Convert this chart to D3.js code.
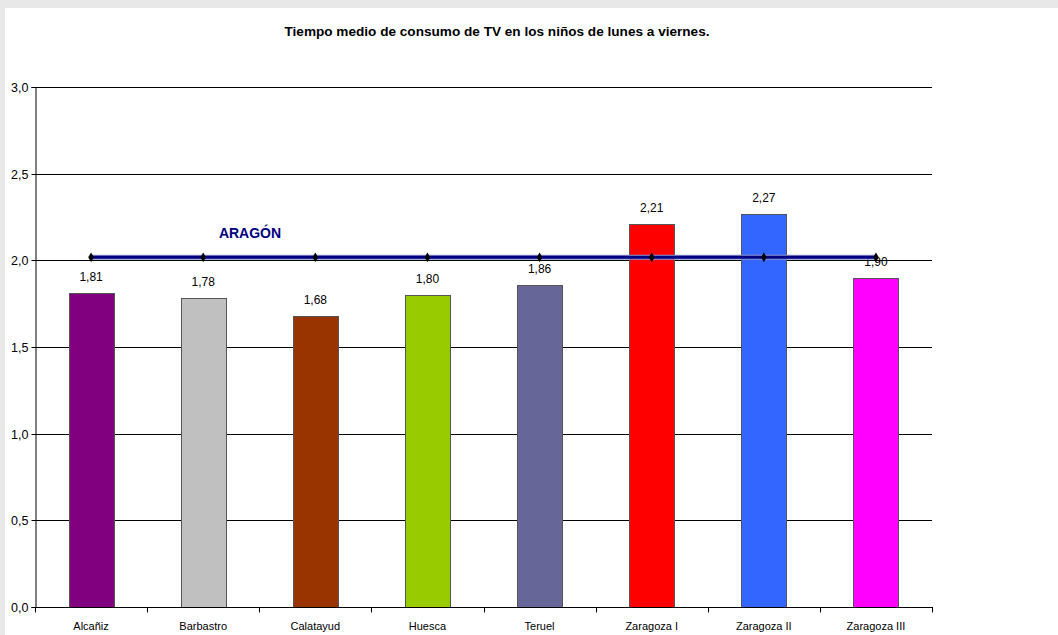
<!DOCTYPE html>
<html><head><meta charset="utf-8">
<script src="https://cdn.jsdelivr.net/npm/d3@7"></script>
<style>body{margin:0;background:#fff;}svg{display:block;font-family:Arial,"Liberation Sans",sans-serif;}</style>
</head><body>
<script>
const categories = ["Alcañiz","Barbastro","Calatayud","Huesca","Teruel","Zaragoza I","Zaragoza II","Zaragoza III"];
const values = [1.81,1.78,1.68,1.80,1.86,2.21,2.27,1.90];
const labels = ["1,81","1,78","1,68","1,80","1,86","2,21","2,27","1,90"];
const aragon = [2.02,2.02,2.02,2.02,2.02,2.02,2.02,2.02];
const colors = ["#800080","#c0c0c0","#993300","#99cc00","#666699","#ff0000","#3366ff","#ff00ff"];
const yTicks = [0,0.5,1,1.5,2,2.5,3];
const yTickLabels = ["0,0","0,5","1,0","1,5","2,0","2,5","3,0"];

const W=1058,H=635;
const svg=d3.select("body").append("svg").attr("width",W).attr("height",H);
svg.append("rect").attr("width",W).attr("height",H).attr("fill","#e8e8e8");
svg.append("rect").attr("x",5).attr("y",8).attr("width",W-5).attr("height",H-8).attr("fill","#fff");

const x0=35,x1=932,yTop=87,yBot=607;
const xb=d3.scaleBand().domain(categories).range([x0,x1]);
const y=d3.scaleLinear().domain([0,3]).range([yBot,yTop]);

svg.append("text").attr("x",497).attr("y",36).attr("text-anchor","middle")
 .attr("font-size",13.6).attr("font-weight","bold").text("Tiempo medio de consumo de TV en los niños de lunes a viernes.");

// grid
svg.append("g").selectAll("line").data(yTicks.slice(1)).join("line")
 .attr("x1",x0).attr("x2",x1).attr("y1",d=>Math.round(y(d))+0.5).attr("y2",d=>Math.round(y(d))+0.5)
 .attr("stroke","#000").attr("stroke-width",1);

// y axis
const ya=svg.append("g").attr("transform",`translate(${x0+0.5},0)`)
 .call(d3.axisLeft(y).tickValues(yTicks).tickSize(4).tickFormat((d,i)=>yTickLabels[i]));
ya.select(".domain").attr("stroke","#000");
ya.selectAll("text").attr("font-size",12.5).attr("font-family","Arial,'Liberation Sans',sans-serif").attr("fill","#000").attr("x",-7);
ya.selectAll(".tick line").attr("stroke","#000");
ya.selectAll(".tick").attr("transform",d=>`translate(0,${Math.round(y(d))+0.5})`);

// bars
svg.append("g").selectAll("rect").data(values).join("rect")
 .attr("x",(d,i)=>Math.round(xb(categories[i])+xb.bandwidth()/2-22.5)+0.5)
 .attr("width",45)
 .attr("y",d=>Math.round(y(d))+0.5)
 .attr("height",d=>yBot-Math.round(y(d)))
 .attr("fill",(d,i)=>colors[i]).attr("stroke","#555").attr("stroke-width",1);

// x axis
const xa=svg.append("g").attr("transform",`translate(0,${yBot+0.5})`);
xa.append("line").attr("x1",x0).attr("x2",x1+1).attr("stroke","#000");
xa.selectAll("line.tk").data(d3.range(categories.length+1)).join("line").attr("class","tk")
 .attr("x1",i=>Math.round(x0+i*xb.step())+0.5).attr("x2",i=>Math.round(x0+i*xb.step())+0.5)
 .attr("y1",0).attr("y2",5).attr("stroke","#000");
xa.selectAll("text").data(categories).join("text")
 .attr("x",d=>xb(d)+xb.bandwidth()/2).attr("y",22).attr("text-anchor","middle")
 .attr("font-size",11).text(d=>d);

// value labels
svg.append("g").selectAll("text").data(values).join("text")
 .attr("x",(d,i)=>xb(categories[i])+xb.bandwidth()/2).attr("y",d=>y(d)-12)
 .attr("text-anchor","middle").attr("font-size",12).text((d,i)=>labels[i]);

// Aragon line
const line=d3.line().x((d,i)=>xb(categories[i])+xb.bandwidth()/2).y(d=>y(d)+0.5);
svg.append("path").datum(aragon).attr("d",line).attr("fill","none").attr("stroke","#8f96cc").attr("stroke-width",5);
svg.append("path").datum(aragon).attr("d",line).attr("fill","none").attr("stroke","#000080").attr("stroke-width",3);
svg.append("g").selectAll("path").data(aragon).join("path")
 .attr("transform",(d,i)=>`translate(${xb(categories[i])+xb.bandwidth()/2},${y(d)+0.5})`)
 .attr("d",d3.symbol(d3.symbolDiamond,28)).attr("fill","#000");
svg.append("text").attr("x",250).attr("y",238).attr("text-anchor","middle")
 .attr("font-size",14).attr("font-weight","bold").attr("fill","#000080").text("ARAGÓN");
</script>
</body></html>
